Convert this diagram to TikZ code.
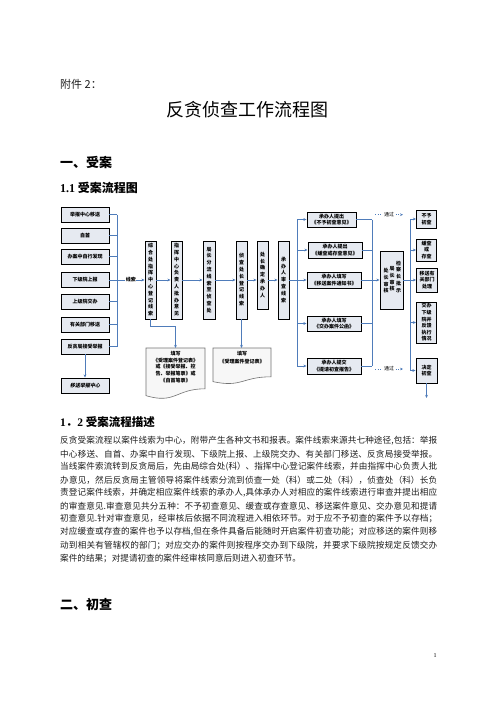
\documentclass[tikz,border=0pt]{standalone}
\usepackage{fontspec}
\setmainfont{Noto Sans CJK SC}
\newfontfamily\slantcjk[FakeSlant=0.2]{Noto Sans CJK SC}
\newfontfamily\tnr{Liberation Serif}
\usetikzlibrary{arrows.meta}
\XeTeXlinebreaklocale "zh"
\XeTeXlinebreakskip=0pt plus 1.5pt minus 0.2pt
\definecolor{arr}{HTML}{4F7CBA}
\definecolor{bfill}{HTML}{E6EAF1}
\definecolor{txt}{HTML}{1E1E1E}
\newcommand\vtx[1]{\vbox{\offinterlineskip\vtaux#1\relax}}
\def\vtaux#1{\ifx\relax#1\else\hbox to 6pt{\hss\vrule height 5pt depth 1.8pt width 0pt #1\hss}\expandafter\vtaux\fi}
\newcommand\pline[1]{\parbox{377pt}{\parindent=0pt\parfillskip=0pt #1}}
\newcommand\docshape[4]{%
  \filldraw[draw=black!55,line width=0.6pt,fill=black!3] (#1,#3) -- (#2,#3) -- (#2,#3+0.8*#4)
   .. controls ({(#1+#2)/2},#3+0.8*#4) and ({(#1+#2)/2},#3+1.107*#4) .. (#1,#3+0.934*#4) -- cycle;}
\tikzset{
  bx/.style={draw=black,line width=0.9pt,fill=bfill,inner sep=0pt,align=center,font=\fontsize{5}{6.6}\selectfont\bfseries},
  ln/.style={draw=arr,line width=0.75pt},
  ar/.style={ln,-{Stealth[length=3.2pt,width=2.8pt]}},
  dt/.style={draw=arr,line width=0.6pt,dotted,-{Stealth[length=3pt,width=2.6pt]}},
  lbl/.style={font=\fontsize{5}{6}\selectfont\bfseries,inner sep=0.6pt,fill=white},
  para/.style={anchor=west,inner sep=0pt,font=\fontsize{8.6}{10}\selectfont,text=txt},
  head/.style={anchor=west,inner sep=0pt,text=black},
}
\begin{document}
\begin{tikzpicture}[x=1pt,y=-1pt]
\useasboundingbox (0,0) rectangle (496,702);
\fill[white] (0,0) rectangle (496,702);

% headings
\node[head,font=\fontsize{11}{12}\selectfont,text=txt] (att) at (60,84) {附件 2：};
\node[inner sep=0pt,font=\fontsize{18}{20}\selectfont] (title) at (247,110) {反贪侦查工作流程图};
\node[head,font=\fontsize{13}{14}\selectfont\bfseries] (h1) at (60,162) {一、受案};
\node[head,font=\fontsize{12}{13}\selectfont\bfseries] (h11) at (60,188.3) {{\tnr\bfseries 1.1} 受案流程图};

% left source boxes
\node[bx,minimum width=48pt,minimum height=15pt] (L1) at (85,214.5) {举报中心移送};
\node[bx,minimum width=48pt,minimum height=15pt] (L2) at (85,235.5) {自首};
\node[bx,minimum width=48pt,minimum height=15pt] (L3) at (85,256.5) {办案中自行发现};
\node[bx,minimum width=48pt,minimum height=15pt] (L4) at (85,280) {下级院上报};
\node[bx,minimum width=48pt,minimum height=15pt] (L5) at (85,301.5) {上级院交办};
\node[bx,minimum width=48pt,minimum height=15pt] (L6) at (85,324.5) {有关部门移送};
\node[bx,minimum width=48pt,minimum height=15pt] (L7) at (85,346.5) {反贪局接受举报};
\node[bx,minimum width=48pt,minimum height=15pt,font=\fontsize{5}{6.6}\selectfont\slantcjk\bfseries] (L8) at (85,385.5) {移送举报中心};

% vertical process boxes
\node[bx,minimum width=11pt,minimum height=78pt] (A) at (150.5,280) {\vtx{综合处指挥中心登记线索}};
\node[bx,minimum width=11pt,minimum height=78pt] (B) at (176.5,280) {\vtx{指挥中心负责人批办意见}};
\node[bx,minimum width=12pt,minimum height=78pt] (C) at (209,280) {\vtx{局长分流线索至侦查处}};
\node[bx,minimum width=11pt,minimum height=78pt] (D) at (241.5,280) {\vtx{侦查处长登记线索}};
\node[bx,minimum width=11pt,minimum height=68pt] (E) at (262.5,275) {\vtx{处长确定承办人}};
\node[bx,minimum width=11pt,minimum height=78pt] (F) at (283.5,280) {\vtx{承办人审查线索}};

% opinion boxes
\node[bx,minimum width=49pt,minimum height=15pt] (G1) at (331.5,219.5) {承办人提出\\《不予初查意见》};
\node[bx,minimum width=54pt,minimum height=16pt] (G2) at (335,250) {承办人提出\\《缓查或存查意见》};
\node[bx,minimum width=54pt,minimum height=16pt] (G3) at (334,280) {承办人填写\\《移送案件通知书》};
\node[bx,minimum width=54pt,minimum height=15pt] (G4) at (334,323.5) {承办人填写\\《交办案件公函》};
\node[bx,minimum width=54pt,minimum height=16pt] (G5) at (334,366) {承办人提交\\《提请初查报告》};

% review box
\node[bx,minimum width=23pt,minimum height=58pt] (H) at (391.5,280) {};
\node[inner sep=0pt,font=\fontsize{5}{6.6}\selectfont\bfseries] (H1) at (386,281) {\vtx{处长审核}};
\node[inner sep=0pt,font=\fontsize{5}{6.6}\selectfont\bfseries] (H2) at (392,279) {\vtx{局长审核}};
\node[inner sep=0pt,font=\fontsize{5}{6.6}\selectfont\bfseries] (H3) at (398.5,277) {\vtx{检察长批示}};

% result boxes
\node[bx,minimum width=20pt,minimum height=18pt] (R1) at (426.5,219) {不予\\初查};
\node[bx,minimum width=20pt,minimum height=22pt] (R2) at (426.5,250) {缓查\\或\\存查};
\node[bx,minimum width=21pt,minimum height=24pt] (R3) at (427,280) {移送有\\关部门\\处理};
\node[bx,minimum width=20pt,minimum height=41pt] (R4) at (426.5,322.5) {交办\\下级\\院并\\反馈\\执行\\情况};
\node[bx,minimum width=21pt,minimum height=25pt] (R5) at (426.5,370.5) {决定\\初查};

% documents
\docshape{146}{205}{348}{51}
\docshape{213}{271}{348}{36}
\node[inner sep=0pt,align=center,font=\fontsize{5}{6.8}\selectfont\bfseries] (doc1) at (175.5,367) {填写\\《受理案件登记表》\\或《接受举报、控\\告、举报笔录》或\\《自首笔录》};
\node[inner sep=0pt,align=center,font=\fontsize{5}{7.5}\selectfont\bfseries] (doc2) at (242,357.5) {填写\\《受理案件登记表》};
\coordinate (d1) at (175.5,348);
\coordinate (d2) at (241.5,348);

% buses
\coordinate (busL) at (117,0);
\coordinate (busM) at (297,0);
\coordinate (busR) at (372,0);
\coordinate (busF) at (410,0);

\foreach \n in {L1,L2,L3,L4,L5,L6,L7} \draw[ln] (\n.east) -- (\n.east -| busL);
\draw[ln] (L1.east -| busL) -- (L7.east -| busL);
\draw[ar] (L4.east -| busL) -- node[lbl]{线索} (A.west);
\draw[ar] (L7.south) -- (L8.north);

\draw[ar] (A.east) -- (B.west);
\draw[ar] (B.east) -- (C.west);
\draw[ar] (C.east) -- (D.west);
\draw[ar] (D.east) -- (D.east -| E.west);
\draw[ar] (D.east -| E.east) -- (F.west);

\draw[ar] (A.south) -- ++(0,7) -| (d1);
\draw[ar] (D.south) -- (d2);

\draw[ln] (F.east) -- (F.east -| busM);
\draw[ln] (G1.west -| busM) -- (G5.west -| busM);
\foreach \g in {G1,G2,G3,G4,G5} {
  \draw[ar] (\g.west -| busM) -- (\g.west);
  \draw[ln] (\g.east) -- (\g.east -| busR);
}
\draw[ln] (G1.east -| busR) -- (G5.east -| busR);
\draw[ar] (G3.east -| busR) -- (H.west);

\draw[ln] (H.east) -- (H.east -| busF);
\draw[ln] (R1.west -| busF) -- (R5.west -| busF);
\foreach \r in {R1,R2,R3,R4,R5} \draw[ar] (\r.west -| busF) -- (\r.west);
\coordinate (out) at (426.5,398);
\draw[ar] (R5.south) -- (out);

\coordinate (p1s) at (375,214.7);
\coordinate (p1e) at (403,214.7);
\coordinate (p2s) at (375,369);
\coordinate (p2e) at (403,369);
\draw[dt] (p1s) -- node[lbl,font=\fontsize{5}{6}\selectfont]{通过} (p1e);
\draw[dt] (p2s) -- node[lbl,font=\fontsize{5}{6}\selectfont]{通过} (p2e);

% description
\node[head,font=\fontsize{11.5}{13}\selectfont\bfseries] (h12) at (60,421.7) {{\tnr\bfseries 1}．{\tnr\bfseries 2} 受案流程描述};
\node[para] (p1) at (60,440.7) {\pline{反贪受案流程以案件线索为中心，附带产生各种文书和报表。案件线索来源共七种途径,包括：举报}};
\node[para] (p2) at (60,453.8) {\pline{中心移送、自首、办案中自行发现、下级院上报、上级院交办、有关部门移送、反贪局接受举报。}};
\node[para] (p3) at (60,466.8) {\pline{当线案件索流转到反贪局后，先由局综合处(科）、指挥中心登记案件线索，并由指挥中心负责人批}};
\node[para] (p4) at (60,479.9) {\pline{办意见，然后反贪局主管领导将案件线索分流到侦查一处（科）或二处（科），侦查处（科）长负}};
\node[para] (p5) at (60,492.9) {\pline{责登记案件线索，并确定相应案件线索的承办人,具体承办人对相应的案件线索进行审查并提出相应}};
\node[para] (p6) at (60,506) {\pline{的审查意见.审查意见共分五种：不予初查意见、缓查或存查意见、移送案件意见、交办意见和提请}};
\node[para] (p7) at (60,519) {\pline{初查意见.针对审查意见，经审核后依据不同流程进入相依环节。对于应不予初查的案件予以存档；}};
\node[para] (p8) at (60,532.1) {\pline{对应缓查或存查的案件也予以存档,但在条件具备后能随时开启案件初查功能；对应移送的案件则移}};
\node[para] (p9) at (60,545.1) {\pline{动到相关有管辖权的部门；对应交办的案件则按程序交办到下级院，并要求下级院按规定反馈交办}};
\node[para] (p10) at (60,558.2) {案件的结果；对提请初查的案件经审核同意后则进入初查环节。};

\node[head,font=\fontsize{13}{14}\selectfont\bfseries] (h2) at (60,604) {二、初查};
\node[inner sep=0pt,font=\fontsize{6}{7}\selectfont\tnr] (pg) at (435,656) {1};
\end{tikzpicture}
\end{document}
